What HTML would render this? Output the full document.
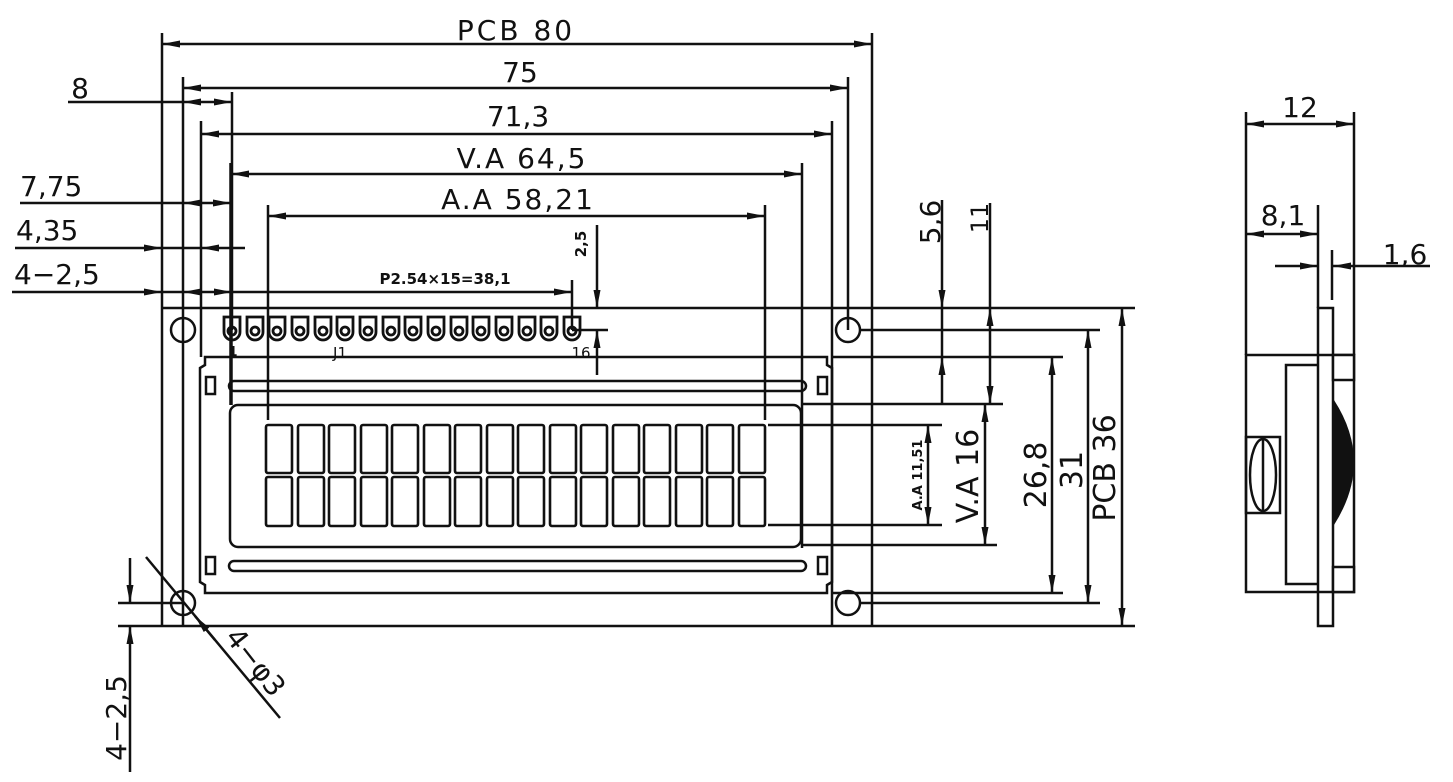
<!DOCTYPE html>
<html><head><meta charset="utf-8"><style>
html,body{margin:0;padding:0;background:#fff;}
svg{display:block;}
text{font-family:"DejaVu Sans","Liberation Sans",sans-serif;fill:#111;}
</style></head><body>
<svg width="1453" height="782" viewBox="0 0 1453 782" xmlns="http://www.w3.org/2000/svg">
<defs>
<marker id="a" markerUnits="userSpaceOnUse" markerWidth="20" markerHeight="10" refX="18" refY="5" orient="auto-start-reverse"><path d="M0,1.5 L18,5 L0,8.5 z" fill="#111"/></marker>
</defs>
<g stroke="#111" stroke-width="2.5" fill="none">
<line x1="162" y1="33" x2="162" y2="626"/>
<line x1="872" y1="33" x2="872" y2="626"/>
<line x1="183" y1="77" x2="183" y2="626"/>
<line x1="848" y1="77" x2="848" y2="330"/>
<line x1="201" y1="121" x2="201" y2="357"/>
<line x1="832" y1="121" x2="832" y2="626"/>
<line x1="232" y1="92" x2="232" y2="330"/>
<line x1="231" y1="163" x2="231" y2="405" stroke-width="3.5"/>
<line x1="802" y1="163" x2="802" y2="548"/>
<line x1="268" y1="205" x2="268" y2="420"/>
<line x1="765" y1="205" x2="765" y2="420"/>
<line x1="162" y1="44" x2="872" y2="44" marker-start="url(#a)" marker-end="url(#a)"/>
<line x1="183" y1="88" x2="848" y2="88" marker-start="url(#a)" marker-end="url(#a)"/>
<line x1="68" y1="102" x2="162" y2="102"/>
<line x1="162" y1="102" x2="183" y2="102"/>
<line x1="183" y1="102" x2="232" y2="102" marker-start="url(#a)" marker-end="url(#a)"/>
<line x1="201" y1="134" x2="832" y2="134" marker-start="url(#a)" marker-end="url(#a)"/>
<line x1="231" y1="174" x2="802" y2="174" marker-start="url(#a)" marker-end="url(#a)"/>
<line x1="268" y1="216" x2="765" y2="216" marker-start="url(#a)" marker-end="url(#a)"/>
<line x1="20" y1="203" x2="162" y2="203"/>
<line x1="162" y1="203" x2="183" y2="203"/>
<line x1="183" y1="203" x2="231" y2="203" marker-start="url(#a)" marker-end="url(#a)"/>
<line x1="15" y1="248" x2="162" y2="248" marker-end="url(#a)"/>
<line x1="162" y1="248" x2="201" y2="248"/>
<line x1="245" y1="248" x2="201" y2="248" marker-end="url(#a)"/>
<line x1="12" y1="292" x2="162" y2="292" marker-end="url(#a)"/>
<line x1="162" y1="292" x2="183" y2="292"/>
<line x1="183" y1="292" x2="232" y2="292" marker-start="url(#a)" marker-end="url(#a)"/>
<line x1="232" y1="292" x2="572" y2="292" marker-end="url(#a)"/>
<line x1="572" y1="280" x2="572" y2="330"/>
<line x1="162" y1="308" x2="1135" y2="308"/>
<line x1="162" y1="626" x2="1135" y2="626"/>
<circle cx="183" cy="330" r="12"/>
<circle cx="848" cy="330" r="12"/>
<circle cx="183" cy="603" r="12"/>
<circle cx="848" cy="603" r="12"/>
<path d="M205,357 L827,357 L827,365 L832,368 L832,582 L827,585 L827,593 L205,593 L205,585 L200,582 L200,368 L205,365 Z"/>
<rect x="206" y="377" width="9" height="17"/>
<rect x="818" y="377" width="9" height="17"/>
<rect x="206" y="557" width="9" height="17"/>
<rect x="818" y="557" width="9" height="17"/>
<rect x="229" y="381" width="577" height="10" rx="5"/>
<rect x="229" y="561" width="577" height="10" rx="5"/>
<rect x="230" y="405" width="571" height="142" rx="8"/>
<line x1="860" y1="330" x2="1100" y2="330"/>
<line x1="832" y1="357" x2="1063" y2="357"/>
<line x1="801" y1="404" x2="1003" y2="404"/>
<line x1="768" y1="425" x2="942" y2="425"/>
<line x1="768" y1="525" x2="942" y2="525"/>
<line x1="801" y1="545" x2="997" y2="545"/>
<line x1="832" y1="593" x2="1063" y2="593"/>
<line x1="860" y1="603" x2="1100" y2="603"/>
<line x1="942" y1="200" x2="942" y2="308" marker-end="url(#a)"/>
<line x1="942" y1="404" x2="942" y2="357" marker-end="url(#a)"/>
<line x1="942" y1="308" x2="942" y2="357"/>
<line x1="990" y1="203" x2="990" y2="308"/>
<line x1="990" y1="308" x2="990" y2="404" marker-start="url(#a)" marker-end="url(#a)"/>
<line x1="928" y1="425" x2="928" y2="525" marker-start="url(#a)" marker-end="url(#a)"/>
<line x1="985" y1="404" x2="985" y2="545" marker-start="url(#a)" marker-end="url(#a)"/>
<line x1="1052" y1="357" x2="1052" y2="593" marker-start="url(#a)" marker-end="url(#a)"/>
<line x1="1088" y1="330" x2="1088" y2="603" marker-start="url(#a)" marker-end="url(#a)"/>
<line x1="1122" y1="308" x2="1122" y2="626" marker-start="url(#a)" marker-end="url(#a)"/>
<line x1="597" y1="225" x2="597" y2="308" marker-end="url(#a)"/>
<line x1="597" y1="375" x2="597" y2="330" marker-end="url(#a)"/>
<line x1="572" y1="330" x2="608" y2="330"/>
<line x1="118" y1="603" x2="183" y2="603"/>
<line x1="118" y1="626" x2="162" y2="626"/>
<line x1="130" y1="558" x2="130" y2="603" marker-end="url(#a)"/>
<line x1="130" y1="772" x2="130" y2="626" marker-end="url(#a)"/>
<line x1="146" y1="557" x2="280" y2="718"/>
<line x1="215" y1="640" x2="195" y2="616" marker-end="url(#a)"/>
<line x1="1246" y1="112" x2="1246" y2="355"/>
<line x1="1354" y1="112" x2="1354" y2="355"/>
<line x1="1246" y1="124" x2="1354" y2="124" marker-start="url(#a)" marker-end="url(#a)"/>
<line x1="1318" y1="205" x2="1318" y2="308"/>
<line x1="1246" y1="234" x2="1318" y2="234" marker-start="url(#a)" marker-end="url(#a)"/>
<line x1="1332" y1="250" x2="1332" y2="300"/>
<line x1="1275" y1="266" x2="1318" y2="266" marker-end="url(#a)"/>
<line x1="1430" y1="266" x2="1333" y2="266" marker-end="url(#a)"/>
<rect x="1318" y="308" width="15" height="318"/>
<rect x="1246" y="355" width="108" height="237"/>
<path d="M1318,365 L1286,365 L1286,584 L1318,584"/>
<rect x="1333" y="355" width="21" height="25" fill="#fff"/>
<rect x="1333" y="567" width="21" height="25" fill="#fff"/>
<rect x="1246" y="437" width="34" height="76"/>
<ellipse cx="1263" cy="475" rx="13" ry="36"/>
<line x1="1263" y1="440" x2="1263" y2="510"/>
</g>
<path d="M1334,400 Q1374,462 1334,525 Z" fill="#111"/>
<g stroke="#111" stroke-width="2.8" fill="none">
<path d="M224,317 L224,332 A8,8 0 0 0 240,332 L240,317 Z"/><circle cx="232" cy="331" r="4"/>
<path d="M247,317 L247,332 A8,8 0 0 0 263,332 L263,317 Z"/><circle cx="255" cy="331" r="4"/>
<path d="M269,317 L269,332 A8,8 0 0 0 285,332 L285,317 Z"/><circle cx="277" cy="331" r="4"/>
<path d="M292,317 L292,332 A8,8 0 0 0 308,332 L308,317 Z"/><circle cx="300" cy="331" r="4"/>
<path d="M315,317 L315,332 A8,8 0 0 0 331,332 L331,317 Z"/><circle cx="323" cy="331" r="4"/>
<path d="M337,317 L337,332 A8,8 0 0 0 353,332 L353,317 Z"/><circle cx="345" cy="331" r="4"/>
<path d="M360,317 L360,332 A8,8 0 0 0 376,332 L376,317 Z"/><circle cx="368" cy="331" r="4"/>
<path d="M383,317 L383,332 A8,8 0 0 0 399,332 L399,317 Z"/><circle cx="391" cy="331" r="4"/>
<path d="M405,317 L405,332 A8,8 0 0 0 421,332 L421,317 Z"/><circle cx="413" cy="331" r="4"/>
<path d="M428,317 L428,332 A8,8 0 0 0 444,332 L444,317 Z"/><circle cx="436" cy="331" r="4"/>
<path d="M451,317 L451,332 A8,8 0 0 0 467,332 L467,317 Z"/><circle cx="459" cy="331" r="4"/>
<path d="M473,317 L473,332 A8,8 0 0 0 489,332 L489,317 Z"/><circle cx="481" cy="331" r="4"/>
<path d="M496,317 L496,332 A8,8 0 0 0 512,332 L512,317 Z"/><circle cx="504" cy="331" r="4"/>
<path d="M519,317 L519,332 A8,8 0 0 0 535,332 L535,317 Z"/><circle cx="527" cy="331" r="4"/>
<path d="M541,317 L541,332 A8,8 0 0 0 557,332 L557,317 Z"/><circle cx="549" cy="331" r="4"/>
<path d="M564,317 L564,332 A8,8 0 0 0 580,332 L580,317 Z"/><circle cx="572" cy="331" r="4"/>
</g>
<g stroke="#111" stroke-width="2.6" fill="none">
<rect x="266" y="425" width="26" height="48" rx="2"/><rect x="266" y="477" width="26" height="49" rx="2"/>
<rect x="298" y="425" width="26" height="48" rx="2"/><rect x="298" y="477" width="26" height="49" rx="2"/>
<rect x="329" y="425" width="26" height="48" rx="2"/><rect x="329" y="477" width="26" height="49" rx="2"/>
<rect x="361" y="425" width="26" height="48" rx="2"/><rect x="361" y="477" width="26" height="49" rx="2"/>
<rect x="392" y="425" width="26" height="48" rx="2"/><rect x="392" y="477" width="26" height="49" rx="2"/>
<rect x="424" y="425" width="26" height="48" rx="2"/><rect x="424" y="477" width="26" height="49" rx="2"/>
<rect x="455" y="425" width="26" height="48" rx="2"/><rect x="455" y="477" width="26" height="49" rx="2"/>
<rect x="487" y="425" width="26" height="48" rx="2"/><rect x="487" y="477" width="26" height="49" rx="2"/>
<rect x="518" y="425" width="26" height="48" rx="2"/><rect x="518" y="477" width="26" height="49" rx="2"/>
<rect x="550" y="425" width="26" height="48" rx="2"/><rect x="550" y="477" width="26" height="49" rx="2"/>
<rect x="581" y="425" width="26" height="48" rx="2"/><rect x="581" y="477" width="26" height="49" rx="2"/>
<rect x="613" y="425" width="26" height="48" rx="2"/><rect x="613" y="477" width="26" height="49" rx="2"/>
<rect x="644" y="425" width="26" height="48" rx="2"/><rect x="644" y="477" width="26" height="49" rx="2"/>
<rect x="676" y="425" width="26" height="48" rx="2"/><rect x="676" y="477" width="26" height="49" rx="2"/>
<rect x="707" y="425" width="26" height="48" rx="2"/><rect x="707" y="477" width="26" height="49" rx="2"/>
<rect x="739" y="425" width="26" height="48" rx="2"/><rect x="739" y="477" width="26" height="49" rx="2"/>
</g>
<g font-size="28">
<text x="516" y="40" text-anchor="middle" letter-spacing="3">PCB 80</text>
<text x="520" y="82" text-anchor="middle">75</text>
<text x="80" y="98" text-anchor="middle">8</text>
<text x="518" y="126" text-anchor="middle">71,3</text>
<text x="522" y="168" text-anchor="middle" letter-spacing="2">V.A 64,5</text>
<text x="518" y="209" text-anchor="middle" letter-spacing="2">A.A 58,21</text>
<text x="20" y="196">7,75</text>
<text x="16" y="240">4,35</text>
<text x="14" y="284">4−2,5</text>
<text x="1300" y="117" text-anchor="middle">12</text>
<text x="1283" y="225" text-anchor="middle">8,1</text>
<text x="1405" y="264" text-anchor="middle">1,6</text>
<text transform="translate(940,222) rotate(-90)" text-anchor="middle">5,6</text>
<text transform="translate(988,218) rotate(-90)" text-anchor="middle" font-size="24">11</text>
<text transform="translate(978,476) rotate(-90)" text-anchor="middle" font-size="30">V.A 16</text>
<text transform="translate(1046,475) rotate(-90)" text-anchor="middle" font-size="30">26,8</text>
<text transform="translate(1082,470) rotate(-90)" text-anchor="middle" font-size="30">31</text>
<text transform="translate(1115,468) rotate(-90)" text-anchor="middle" font-size="30">PCB 36</text>
<text transform="translate(126,718) rotate(-90)" text-anchor="middle">4−2,5</text>
<text transform="translate(248,668) rotate(52)" text-anchor="middle">4−φ3</text>
</g>
<g font-size="15" font-weight="bold">
<text x="445" y="284" text-anchor="middle">P2.54×15=38,1</text>
<text transform="translate(586,244) rotate(-90)" text-anchor="middle">2,5</text>
<text transform="translate(922,475) rotate(-90)" text-anchor="middle" font-size="13">A.A 11,51</text>
<text x="233" y="356" text-anchor="middle" font-size="13">1</text>
<text x="340" y="358" text-anchor="middle" font-weight="normal" font-size="15">J1</text>
<text x="581" y="358" text-anchor="middle" font-weight="normal" font-size="15">16</text>
</g>
</svg>
</body></html>
